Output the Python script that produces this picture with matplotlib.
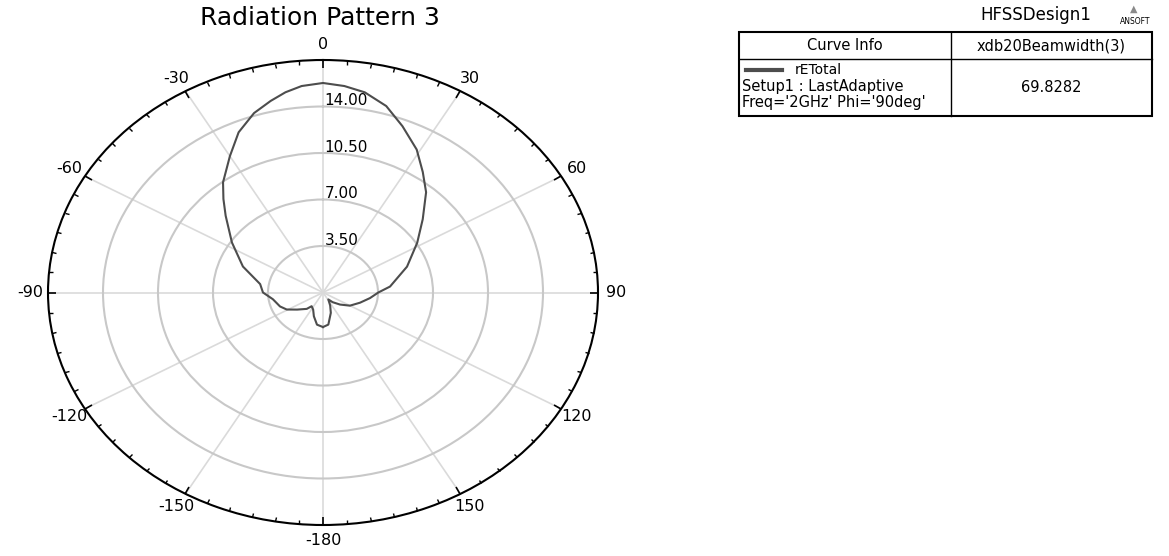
import numpy as np
import matplotlib
matplotlib.use("Agg")
import matplotlib.pyplot as plt
from matplotlib.patches import Rectangle

# rETotal, Setup1 : LastAdaptive, Freq='2GHz' Phi='90deg'  (theta deg, value)
theta_deg = [-180, -171, -162, -154, -145, -140, -128, -119, -111, -99,
             -90, -81, -69, -57, -47, -42, -37.5, -30, -24, -18, -13, -9,
             -5, 0, 5, 10, 16, 22, 29, 35, 41, 49, 58, 70, 84, 90, 98,
             108, 120, 130, 140, 147, 155, 162, 172, 180]
re_total = [2.60, 2.45, 1.88, 1.43, 1.26, 1.61, 2.09, 2.64, 2.93, 3.23,
            3.82, 4.05, 5.46, 6.91, 8.47, 9.47, 10.45, 11.85, 13.20, 14.20,
            14.80, 15.26, 15.60, 15.77, 15.60, 15.30, 14.60, 13.50, 12.30,
            11.07, 10.00, 8.41, 7.07, 5.69, 4.29, 3.52, 3.02, 2.48, 1.98,
            1.41, 0.95, 0.62, 1.08, 1.61, 2.44, 2.60]

r_rings = [3.5, 7.0, 10.5, 14.0]
r_max = 17.5
theta_major = list(range(0, 360, 30))
theta_labels = ["0", "30", "60", "90", "120", "150",
                "-180", "-150", "-120", "-90", "-60", "-30"]
beamwidth = "69.8282"

W, H = 1169, 556
fig = plt.figure(figsize=(W / 100, H / 100), dpi=100)

ax = fig.add_axes([48 / W, 31 / H, 550 / W, 465 / H], projection="polar")
ax.set_aspect("auto")          # let the polar box stretch into an ellipse
ax.set_theta_zero_location("N")
ax.set_theta_direction(-1)
ax.set_ylim(0, r_max)

ax.set_xticks(np.deg2rad(theta_major))
ax.set_xticklabels([])
ax.set_xticks(np.deg2rad(np.arange(0, 360, 5)), minor=True)
# tick2 sits on the outer rim of a polar axes
ax.tick_params(axis="x", which="both", bottom=False, top=True)
ax.tick_params(axis="x", which="major", direction="in", length=6, width=1.2)
ax.tick_params(axis="x", which="minor", direction="in", length=3, width=1)

# angle labels placed just outside the (elliptical) rim
for ang, lab in zip(theta_major, theta_labels):
    ax.text(np.deg2rad(ang), r_max * 1.065, lab, ha="center", va="center",
            fontsize=11.5, clip_on=False)

ax.set_yticks(r_rings)
ax.set_yticklabels([])
ax.tick_params(axis="y", length=0)
ax.grid(axis="y", color="#c8c8c8", lw=1.5)
ax.grid(axis="x", color="#dadada", lw=1.2)
ax.spines["polar"].set_linewidth(1.5)
ax.spines["polar"].set_color("black")

ax.plot(np.deg2rad(theta_deg), re_total, color="#4d4d4d", lw=1.5, zorder=3)

for r in r_rings:
    ax.annotate(f"{r:.2f}", xy=(0, r), xytext=(1, 1),
                textcoords="offset points", ha="left", va="baseline",
                fontsize=11, zorder=4)

fig.text(320 / W, 1 - 18 / H, "Radiation Pattern 3", ha="center",
         va="center", fontsize=18)

# curve info table, drawn in pixel coordinates
tb = fig.add_axes([0, 0, 1, 1])
tb.set_xlim(0, W)
tb.set_ylim(H, 0)
tb.axis("off")
tb.patch.set_visible(False)

x0, x1, xm = 739, 1152, 951
y0, y1, ym = 32, 116, 59
tb.add_patch(Rectangle((x0, y0), x1 - x0, y1 - y0, fill=False,
                       ec="black", lw=1.5))
tb.plot([x0, x1], [ym, ym], color="black", lw=1)
tb.plot([xm, xm], [y0, y1], color="black", lw=1)

tb.text((x0 + xm) / 2, 46, "Curve Info", ha="center", va="center",
        fontsize=10.5)
tb.text((xm + x1) / 2, 46, "xdb20Beamwidth(3)", ha="center", va="center",
        fontsize=10.5)
tb.plot([746, 782], [70, 70], color="#4d4d4d", lw=3)
tb.text(795, 70, "rETotal", ha="left", va="center", fontsize=10)
tb.text(742, 87, "Setup1 : LastAdaptive", ha="left", va="center",
        fontsize=10.5)
tb.text(742, 103, "Freq='2GHz' Phi='90deg'", ha="left", va="center",
        fontsize=10.5)
tb.text((xm + x1) / 2, 87, beamwidth, ha="center", va="center",
        fontsize=10.5)

tb.text(1036, 15, "HFSSDesign1", ha="center", va="center", fontsize=12)
tb.text(1134, 9, "\u25b2", ha="center", va="center", fontsize=7,
        color="#8a8a8a")
tb.text(1135, 21, "ANSOFT", ha="center", va="center", fontsize=5.5)

fig.savefig("out.png", dpi=100)
